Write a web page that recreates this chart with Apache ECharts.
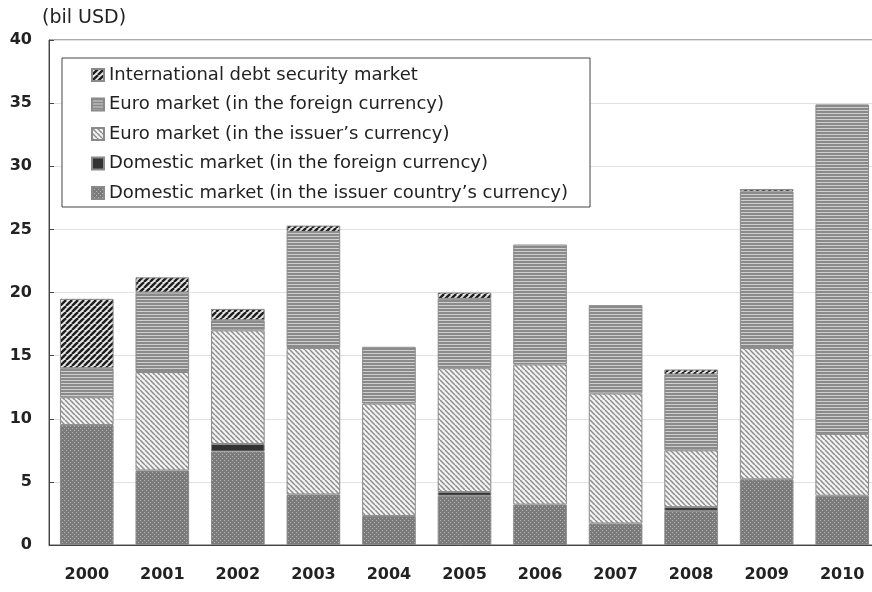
<!DOCTYPE html>
<html>
<head>
<meta charset="utf-8">
<script src="https://cdn.jsdelivr.net/npm/echarts@6/dist/echarts.min.js"></script>
<style>
html,body{margin:0;padding:0;background:#fff;}
#chart{width:872px;height:592px;}
</style>
</head>
<body>
<div id="chart"></div>
<script>
const years = ['2000','2001','2002','2003','2004','2005','2006','2007','2008','2009','2010'];
const domesticIssuer  = [9.5, 5.9, 7.4, 4.0, 2.3, 3.9, 3.2, 1.7, 2.7, 5.2, 3.9];
const domesticForeign = [0,   0,   0.6, 0,   0,   0.3, 0,   0,   0.3, 0,   0];
const euroIssuer      = [2.2, 7.8, 9.0, 11.6, 8.9, 9.8, 11.1, 10.3, 4.5, 10.4, 4.9];
const euroForeign     = [2.3, 6.3, 0.8, 9.2, 4.5, 5.5, 9.5, 7.0, 6.0, 12.4, 26.1];
const international   = [5.5, 1.2, 0.9, 0.5, 0,   0.5, 0,   0,   0.4, 0.2, 0];
const seriesNames = [
  'Domestic market (in the issuer country\u2019s currency)',
  'Domestic market (in the foreign currency)',
  'Euro market (in the issuer\u2019s currency)',
  'Euro market (in the foreign currency)',
  'International debt security market'
];
const yTicks = [0, 40, 5];

function pat(w, h, draw) {
  const c = document.createElement('canvas');
  c.width = w; c.height = h;
  const g = c.getContext('2d');
  draw(g, w, h);
  return { image: c, repeat: 'repeat' };
}
const pIntl = pat(6, 6, (g, w, h) => {
  g.fillStyle = '#e8e8e8'; g.fillRect(0, 0, w, h);
  g.strokeStyle = '#1e1e1e'; g.lineWidth = 2.4;
  for (let k = -1; k <= 1; k++) {
    g.beginPath(); g.moveTo(k * w, h); g.lineTo(k * w + w, 0); g.stroke();
  }
});
const pEuroF = pat(4, 3, (g, w, h) => {
  g.fillStyle = '#8a8a8a'; g.fillRect(0, 0, w, h);
  g.fillStyle = '#cfcfcf'; g.fillRect(0, 2, w, 1);
});
const pEuroI = pat(5, 5, (g, w, h) => {
  g.fillStyle = '#f4f4f4'; g.fillRect(0, 0, w, h);
  g.strokeStyle = '#8c8c8c'; g.lineWidth = 1.5;
  for (let k = -1; k <= 1; k++) {
    g.beginPath(); g.moveTo(k * w, 0); g.lineTo(k * w + w, h); g.stroke();
  }
});
const pDomI = pat(4, 4, (g, w, h) => {
  g.fillStyle = '#7b7b7b'; g.fillRect(0, 0, w, h);
  g.fillStyle = '#b4b4b4'; g.fillRect(0, 0, 1, 1); g.fillRect(2, 2, 1, 1);
});
const fills = [pDomI, '#333333', pEuroI, pEuroF, pIntl];
const datas = [domesticIssuer, domesticForeign, euroIssuer, euroForeign, international];

const chart = echarts.init(document.getElementById('chart'), null, {renderer: 'canvas'});
const font = '"DejaVu Sans", sans-serif';
chart.setOption({
  animation: false,
  backgroundColor: '#fff',
  graphic: [{
    type: 'text', left: 42, top: 9,
    style: { text: '(bil USD)', fontSize: 19, fontFamily: font, fill: '#222' }
  }],
  grid: { left: 49, top: 40, width: 831, height: 505, outerBoundsMode: 'none', containLabel: false,
          show: true, borderColor: '#555', borderWidth: 1 },
  legend: {
    orient: 'vertical', left: 62, top: 58,
    data: seriesNames.slice().reverse(),
    backgroundColor: '#fff', borderColor: '#444', borderWidth: 1,
    padding: [7, 22, 4, 29],
    itemWidth: 12, itemHeight: 12, itemGap: 9.5,
    icon: 'rect',
    textStyle: { fontSize: 18, fontFamily: font, color: '#222', lineHeight: 20 }
  },
  xAxis: {
    type: 'category', data: years,
    axisLine: { lineStyle: { color: '#444' } },
    axisTick: { inside: true, length: 5, lineStyle: { color: '#444' } },
    axisLabel: { fontSize: 16, fontWeight: 'bold', fontFamily: font, color: '#222', margin: 22 }
  },
  yAxis: {
    type: 'value', min: yTicks[0], max: yTicks[1], interval: yTicks[2],
    axisLine: { show: true, lineStyle: { color: '#444' } },
    axisTick: { show: true, inside: true, length: 5, lineStyle: { color: '#444' } },
    axisLabel: { fontSize: 16, fontWeight: 'bold', fontFamily: font, color: '#222', margin: 17 },
    splitLine: { lineStyle: { color: '#e2e2e2' } }
  },
  series: seriesNames.map((n, i) => ({
    name: n, type: 'bar', stack: 'total', barCategoryGap: '29%',
    itemStyle: { color: fills[i], borderColor: '#8a8a8a', borderWidth: 1 },
    data: datas[i].map(v => v === 0 ? '-' : v)
  }))
});
</script>
</body>
</html>
